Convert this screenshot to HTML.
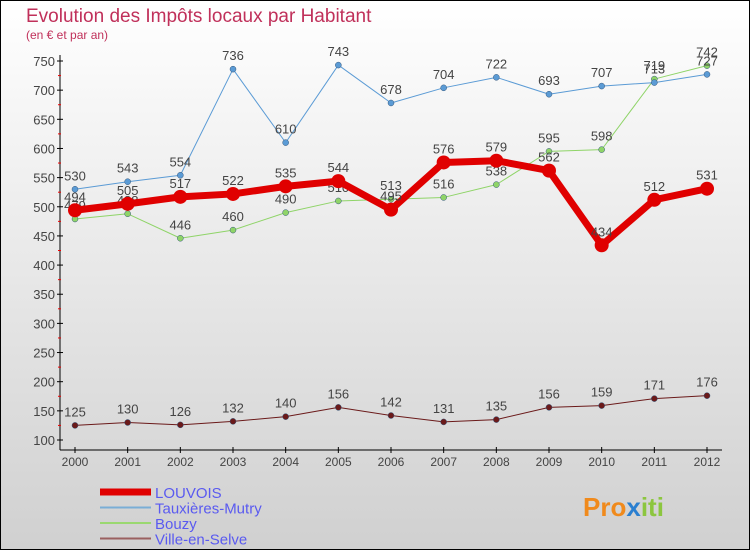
<!DOCTYPE html>
<html><head><meta charset="utf-8"><style>
html,body{margin:0;padding:0;}
body{width:750px;height:550px;overflow:hidden;font-family:"Liberation Sans",sans-serif;}
</style></head><body>
<svg id="chart" width="750" height="550" xmlns="http://www.w3.org/2000/svg">
<defs><linearGradient id="bg" x1="0" y1="0" x2="0" y2="1"><stop offset="0" stop-color="#ffffff"/><stop offset="1" stop-color="#d0d0d0"/></linearGradient></defs>
<rect x="0.5" y="0.5" width="749" height="549" fill="url(#bg)" stroke="#000"/>
<text x="26" y="22" font-size="19" fill="#c0305a">Evolution des Impôts locaux par Habitant</text>
<text x="26" y="39" font-size="12" fill="#c0305a">(en € et par an)</text>
<g id="axes"></g><g id="series"></g><g id="legend"></g>
<text x="583" y="516" font-size="26" font-weight="bold" fill="#f08a1c">Pro<tspan fill="#2a7fd0">x</tspan><tspan fill="#8cc63f">iti</tspan></text>
</svg>
<script>
const years=[2000,2001,2002,2003,2004,2005,2006,2007,2008,2009,2010,2011,2012];
const yTicks=[100,150,200,250,300,350,400,450,500,550,600,650,700,750];
const louvois=[494,505,517,522,535,544,495,576,579,562,434,512,531];
const tauxieres=[530,543,554,736,610,743,678,704,722,693,707,713,727];
const bouzy=[479,488,446,460,490,510,513,516,538,595,598,719,742];
const ville=[125,130,126,132,140,156,142,131,135,156,159,171,176];
const NS="http://www.w3.org/2000/svg";
const x=i=>75+i*(707-75)/12;
const y=v=>440-(v-100)*(440-61)/650;
function el(t,a,p){const e=document.createElementNS(NS,t);for(const k in a)e.setAttribute(k,a[k]);p.appendChild(e);return e;}
const ax=document.getElementById('axes');
const yAxis=el('line',{x1:60,y1:55,x2:60,y2:450,stroke:'#000'},ax);


const xAxis=el('line',{x1:60,y1:450,x2:722,y2:450,stroke:'#000'},ax);


yTicks.forEach((v,i)=>{
  el('line',{x1:57,y1:y(v),x2:63,y2:y(v),stroke:'#000'},ax);
  if(i<yTicks.length-1) el('line',{x1:58,y1:y(v+25),x2:61,y2:y(v+25),stroke:'#e00'},ax);
  const t=el('text',{x:55,y:y(v)+5,'font-size':13,'text-anchor':'end',fill:'#444'},ax);
  t.textContent=v;
  
  
});
years.forEach((yr,i)=>{
  el('line',{x1:x(i),y1:447,x2:x(i),y2:453,stroke:'#000'},ax);
  const t=el('text',{x:x(i),y:466,'font-size':12,'text-anchor':'middle',fill:'#444'},ax);
  t.textContent=yr;
  
  
});
const sg=document.getElementById('series');
const series=[
 {name:'ville-en-selve',data:ville,c:'#6b1a1a',w:1,r:3},
 {name:'bouzy',data:bouzy,c:'#8fd468',w:1,r:3},
 {name:'tauxieres-mutry',data:tauxieres,c:'#5b9bd5',w:1,r:3},
 {name:'louvois',data:louvois,c:'#e00000',w:7,r:7}
];
series.forEach(s=>{
  const g=el('g',{},sg);
  
  
  const pl=el('polyline',{points:s.data.map((v,i)=>x(i)+','+y(v)).join(' '),fill:'none',stroke:s.c,'stroke-width':s.w,'stroke-linejoin':'round'},g);
  
  
  s.data.forEach((v,i)=>{
    const p=el('circle',{cx:x(i),cy:y(v),r:s.r,fill:s.c,stroke:s.w>1?'none':'#33557a','stroke-width':0.5},g);
    
    
    const t=el('text',{x:x(i),y:y(v)-9,'font-size':13,'text-anchor':'middle',fill:'#444'},g);
    t.textContent=v;
    
    
  });
});
const lg=document.getElementById('legend');
const items=[['LOUVOIS','#e00000',7],['Tauxières-Mutry','#7aaed6',2],['Bouzy','#9ad870',2],['Ville-en-Selve','#9a6060',2]];
items.forEach((it,i)=>{
  const yy=492+i*15.5;
  const g=el('g',{},lg);
  
  
  el('line',{x1:100,y1:yy,x2:151,y2:yy,stroke:it[1],'stroke-width':it[2]},g);
  const t=el('text',{x:155,y:yy+6,'font-size':15,fill:'#5a5af0'},g);
  t.textContent=it[0];
});
</script>
</body></html>
